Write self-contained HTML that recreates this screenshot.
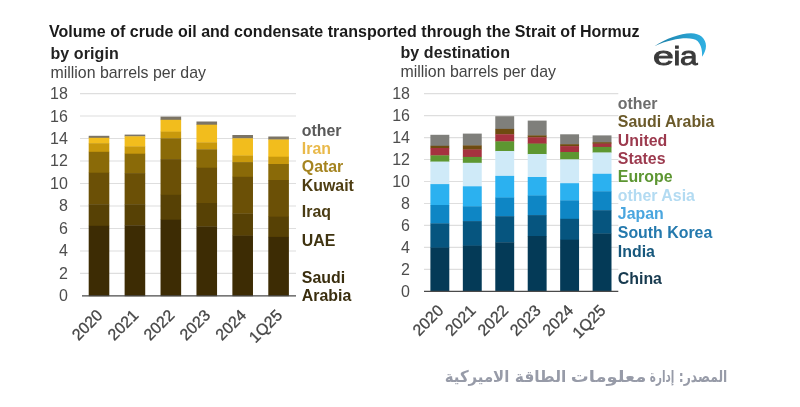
<!DOCTYPE html>
<html lang="en"><head><meta charset="utf-8"><title>Strait of Hormuz crude oil volumes</title>
<style>html,body{margin:0;padding:0;background:#fff}body{width:800px;height:407px;overflow:hidden}svg{display:block}text{font-family:"Liberation Sans",sans-serif}.b{font-weight:bold}.t{fill:#4d4d4d;font-size:16px}.x{fill:#454545;font-size:16px;stroke:#454545;stroke-width:.3px}.ar{font-family:"DejaVu Sans",sans-serif}</style></head><body>
<svg width="800" height="407" viewBox="0 0 800 407">
<defs><linearGradient id="sw" x1="0" y1="0" x2="1" y2="0"><stop offset="0" stop-color="#1b7ea6"/><stop offset="1" stop-color="#2fb0e2"/></linearGradient></defs>
<rect width="800" height="407" fill="#fff"/>
<text class="b" x="49" y="36.7" font-size="16" fill="#1a1a1a" textLength="590.6" lengthAdjust="spacing">Volume of crude oil and condensate transported through the Strait of Hormuz</text>
<text class="b" x="50.5" y="58.5" font-size="16" fill="#222" letter-spacing="0.08">by origin</text>
<text x="50.5" y="77.5" font-size="15.9" fill="#444">million barrels per day</text>
<text class="b" x="400.5" y="57.5" font-size="16" fill="#222" letter-spacing="0.08">by destination</text>
<text x="400.5" y="76.7" font-size="15.9" fill="#444">million barrels per day</text>
<line x1="80.0" x2="296.0" y1="273.42" y2="273.42" stroke="#dedede" stroke-width="1.1"/>
<line x1="80.0" x2="296.0" y1="250.94" y2="250.94" stroke="#dedede" stroke-width="1.1"/>
<line x1="80.0" x2="296.0" y1="228.46" y2="228.46" stroke="#dedede" stroke-width="1.1"/>
<line x1="80.0" x2="296.0" y1="205.98" y2="205.98" stroke="#dedede" stroke-width="1.1"/>
<line x1="80.0" x2="296.0" y1="183.50" y2="183.50" stroke="#dedede" stroke-width="1.1"/>
<line x1="80.0" x2="296.0" y1="161.02" y2="161.02" stroke="#dedede" stroke-width="1.1"/>
<line x1="80.0" x2="296.0" y1="138.54" y2="138.54" stroke="#dedede" stroke-width="1.1"/>
<line x1="80.0" x2="296.0" y1="116.06" y2="116.06" stroke="#dedede" stroke-width="1.1"/>
<line x1="80.0" x2="296.0" y1="93.58" y2="93.58" stroke="#dedede" stroke-width="1.1"/>
<text class="t" x="67.8" y="301.35" text-anchor="end">0</text>
<text class="t" x="67.8" y="278.87" text-anchor="end">2</text>
<text class="t" x="67.8" y="256.39" text-anchor="end">4</text>
<text class="t" x="67.8" y="233.91" text-anchor="end">6</text>
<text class="t" x="67.8" y="211.43" text-anchor="end">8</text>
<text class="t" x="67.8" y="188.95" text-anchor="end">10</text>
<text class="t" x="67.8" y="166.47" text-anchor="end">12</text>
<text class="t" x="67.8" y="143.99" text-anchor="end">14</text>
<text class="t" x="67.8" y="121.51" text-anchor="end">16</text>
<text class="t" x="67.8" y="99.03" text-anchor="end">18</text>
<rect x="88.70" y="135.80" width="20.60" height="2.30" fill="#7b7466"/>
<rect x="88.70" y="137.80" width="20.60" height="5.70" fill="#f2bd1d"/>
<rect x="88.70" y="143.20" width="20.60" height="8.90" fill="#c9990c"/>
<rect x="88.70" y="151.80" width="20.60" height="21.20" fill="#8a6a08"/>
<rect x="88.70" y="172.70" width="20.60" height="31.80" fill="#6b5006"/>
<rect x="88.70" y="204.20" width="20.60" height="21.90" fill="#574105"/>
<rect x="88.70" y="225.80" width="20.60" height="70.40" fill="#3d2c04"/>
<rect x="124.62" y="134.60" width="20.60" height="2.00" fill="#7b7466"/>
<rect x="124.62" y="136.30" width="20.60" height="10.40" fill="#f2bd1d"/>
<rect x="124.62" y="146.40" width="20.60" height="7.60" fill="#c9990c"/>
<rect x="124.62" y="153.70" width="20.60" height="19.70" fill="#8a6a08"/>
<rect x="124.62" y="173.10" width="20.60" height="31.40" fill="#6b5006"/>
<rect x="124.62" y="204.20" width="20.60" height="21.40" fill="#574105"/>
<rect x="124.62" y="225.30" width="20.60" height="70.90" fill="#3d2c04"/>
<rect x="160.54" y="116.60" width="20.60" height="3.50" fill="#7b7466"/>
<rect x="160.54" y="119.80" width="20.60" height="12.10" fill="#f2bd1d"/>
<rect x="160.54" y="131.60" width="20.60" height="7.00" fill="#c9990c"/>
<rect x="160.54" y="138.30" width="20.60" height="21.10" fill="#8a6a08"/>
<rect x="160.54" y="159.10" width="20.60" height="36.00" fill="#6b5006"/>
<rect x="160.54" y="194.80" width="20.60" height="25.20" fill="#574105"/>
<rect x="160.54" y="219.70" width="20.60" height="76.50" fill="#3d2c04"/>
<rect x="196.46" y="121.50" width="20.60" height="3.50" fill="#7b7466"/>
<rect x="196.46" y="124.70" width="20.60" height="18.00" fill="#f2bd1d"/>
<rect x="196.46" y="142.40" width="20.60" height="7.20" fill="#c9990c"/>
<rect x="196.46" y="149.30" width="20.60" height="18.70" fill="#8a6a08"/>
<rect x="196.46" y="167.70" width="20.60" height="35.60" fill="#6b5006"/>
<rect x="196.46" y="203.00" width="20.60" height="23.80" fill="#574105"/>
<rect x="196.46" y="226.50" width="20.60" height="69.70" fill="#3d2c04"/>
<rect x="232.38" y="135.00" width="20.60" height="3.60" fill="#7b7466"/>
<rect x="232.38" y="138.30" width="20.60" height="17.50" fill="#f2bd1d"/>
<rect x="232.38" y="155.50" width="20.60" height="6.90" fill="#c9990c"/>
<rect x="232.38" y="162.10" width="20.60" height="15.00" fill="#8a6a08"/>
<rect x="232.38" y="176.80" width="20.60" height="37.00" fill="#6b5006"/>
<rect x="232.38" y="213.50" width="20.60" height="22.40" fill="#574105"/>
<rect x="232.38" y="235.60" width="20.60" height="60.60" fill="#3d2c04"/>
<rect x="268.30" y="136.50" width="20.60" height="3.30" fill="#7b7466"/>
<rect x="268.30" y="139.50" width="20.60" height="17.50" fill="#f2bd1d"/>
<rect x="268.30" y="156.70" width="20.60" height="7.60" fill="#c9990c"/>
<rect x="268.30" y="164.00" width="20.60" height="16.30" fill="#8a6a08"/>
<rect x="268.30" y="180.00" width="20.60" height="37.00" fill="#6b5006"/>
<rect x="268.30" y="216.70" width="20.60" height="20.50" fill="#574105"/>
<rect x="268.30" y="236.90" width="20.60" height="59.30" fill="#3d2c04"/>
<line x1="82.0" x2="296.0" y1="295.90" y2="295.90" stroke="#4a4a4a" stroke-width="1.2"/>
<text class="t x" text-anchor="end" transform="translate(103.60,316.10) rotate(-45)">2020</text>
<text class="t x" text-anchor="end" transform="translate(139.52,316.10) rotate(-45)">2021</text>
<text class="t x" text-anchor="end" transform="translate(175.44,316.10) rotate(-45)">2022</text>
<text class="t x" text-anchor="end" transform="translate(211.36,316.10) rotate(-45)">2023</text>
<text class="t x" text-anchor="end" transform="translate(247.28,316.10) rotate(-45)">2024</text>
<text class="t x" text-anchor="end" transform="translate(283.20,316.10) rotate(-45)">1Q25</text>
<line x1="424.0" x2="618.3" y1="269.34" y2="269.34" stroke="#dedede" stroke-width="1.1"/>
<line x1="424.0" x2="618.3" y1="247.38" y2="247.38" stroke="#dedede" stroke-width="1.1"/>
<line x1="424.0" x2="618.3" y1="225.42" y2="225.42" stroke="#dedede" stroke-width="1.1"/>
<line x1="424.0" x2="618.3" y1="203.46" y2="203.46" stroke="#dedede" stroke-width="1.1"/>
<line x1="424.0" x2="618.3" y1="181.50" y2="181.50" stroke="#dedede" stroke-width="1.1"/>
<line x1="424.0" x2="618.3" y1="159.54" y2="159.54" stroke="#dedede" stroke-width="1.1"/>
<line x1="424.0" x2="618.3" y1="137.58" y2="137.58" stroke="#dedede" stroke-width="1.1"/>
<line x1="424.0" x2="618.3" y1="115.62" y2="115.62" stroke="#dedede" stroke-width="1.1"/>
<line x1="424.0" x2="618.3" y1="93.66" y2="93.66" stroke="#dedede" stroke-width="1.1"/>
<text class="t" x="410.0" y="296.75" text-anchor="end">0</text>
<text class="t" x="410.0" y="274.79" text-anchor="end">2</text>
<text class="t" x="410.0" y="252.83" text-anchor="end">4</text>
<text class="t" x="410.0" y="230.87" text-anchor="end">6</text>
<text class="t" x="410.0" y="208.91" text-anchor="end">8</text>
<text class="t" x="410.0" y="186.95" text-anchor="end">10</text>
<text class="t" x="410.0" y="164.99" text-anchor="end">12</text>
<text class="t" x="410.0" y="143.03" text-anchor="end">14</text>
<text class="t" x="410.0" y="121.07" text-anchor="end">16</text>
<text class="t" x="410.0" y="99.11" text-anchor="end">18</text>
<rect x="430.40" y="134.80" width="18.90" height="11.30" fill="#7f7f7b"/>
<rect x="430.40" y="145.80" width="18.90" height="2.50" fill="#6e4b10"/>
<rect x="430.40" y="148.00" width="18.90" height="7.70" fill="#a5323f"/>
<rect x="430.40" y="155.40" width="18.90" height="6.50" fill="#5d9731"/>
<rect x="430.40" y="161.60" width="18.90" height="22.80" fill="#cfeaf8"/>
<rect x="430.40" y="184.10" width="18.90" height="21.20" fill="#2bb1f0"/>
<rect x="430.40" y="205.00" width="18.90" height="18.70" fill="#0e86c5"/>
<rect x="430.40" y="223.40" width="18.90" height="24.50" fill="#06557f"/>
<rect x="430.40" y="247.60" width="18.90" height="44.00" fill="#043a57"/>
<rect x="462.84" y="133.60" width="18.90" height="12.10" fill="#7f7f7b"/>
<rect x="462.84" y="145.40" width="18.90" height="4.40" fill="#6e4b10"/>
<rect x="462.84" y="149.50" width="18.90" height="7.70" fill="#a5323f"/>
<rect x="462.84" y="156.90" width="18.90" height="6.20" fill="#5d9731"/>
<rect x="462.84" y="162.80" width="18.90" height="23.80" fill="#cfeaf8"/>
<rect x="462.84" y="186.30" width="18.90" height="20.30" fill="#2bb1f0"/>
<rect x="462.84" y="206.30" width="18.90" height="15.10" fill="#0e86c5"/>
<rect x="462.84" y="221.10" width="18.90" height="24.80" fill="#06557f"/>
<rect x="462.84" y="245.60" width="18.90" height="46.00" fill="#043a57"/>
<rect x="495.28" y="116.20" width="18.90" height="13.00" fill="#7f7f7b"/>
<rect x="495.28" y="128.90" width="18.90" height="5.70" fill="#6e4b10"/>
<rect x="495.28" y="134.30" width="18.90" height="7.40" fill="#a5323f"/>
<rect x="495.28" y="141.40" width="18.90" height="9.90" fill="#5d9731"/>
<rect x="495.28" y="151.00" width="18.90" height="25.20" fill="#cfeaf8"/>
<rect x="495.28" y="175.90" width="18.90" height="21.90" fill="#2bb1f0"/>
<rect x="495.28" y="197.50" width="18.90" height="19.00" fill="#0e86c5"/>
<rect x="495.28" y="216.20" width="18.90" height="26.40" fill="#06557f"/>
<rect x="495.28" y="242.30" width="18.90" height="49.30" fill="#043a57"/>
<rect x="527.72" y="120.60" width="18.90" height="15.10" fill="#7f7f7b"/>
<rect x="527.72" y="135.40" width="18.90" height="2.20" fill="#6e4b10"/>
<rect x="527.72" y="137.30" width="18.90" height="6.60" fill="#a5323f"/>
<rect x="527.72" y="143.60" width="18.90" height="10.70" fill="#5d9731"/>
<rect x="527.72" y="154.00" width="18.90" height="23.30" fill="#cfeaf8"/>
<rect x="527.72" y="177.00" width="18.90" height="18.80" fill="#2bb1f0"/>
<rect x="527.72" y="195.50" width="18.90" height="19.90" fill="#0e86c5"/>
<rect x="527.72" y="215.10" width="18.90" height="21.20" fill="#06557f"/>
<rect x="527.72" y="236.00" width="18.90" height="55.60" fill="#043a57"/>
<rect x="560.16" y="134.30" width="18.90" height="10.20" fill="#7f7f7b"/>
<rect x="560.16" y="144.20" width="18.90" height="2.20" fill="#6e4b10"/>
<rect x="560.16" y="146.10" width="18.90" height="6.20" fill="#a5323f"/>
<rect x="560.16" y="152.00" width="18.90" height="7.70" fill="#5d9731"/>
<rect x="560.16" y="159.40" width="18.90" height="24.10" fill="#cfeaf8"/>
<rect x="560.16" y="183.20" width="18.90" height="17.50" fill="#2bb1f0"/>
<rect x="560.16" y="200.40" width="18.90" height="18.70" fill="#0e86c5"/>
<rect x="560.16" y="218.80" width="18.90" height="21.20" fill="#06557f"/>
<rect x="560.16" y="239.70" width="18.90" height="51.90" fill="#043a57"/>
<rect x="592.60" y="135.40" width="18.90" height="7.10" fill="#7f7f7b"/>
<rect x="592.60" y="142.20" width="18.90" height="1.70" fill="#6e4b10"/>
<rect x="592.60" y="143.60" width="18.90" height="3.60" fill="#a5323f"/>
<rect x="592.60" y="146.90" width="18.90" height="5.90" fill="#5d9731"/>
<rect x="592.60" y="152.50" width="18.90" height="21.60" fill="#cfeaf8"/>
<rect x="592.60" y="173.80" width="18.90" height="17.80" fill="#2bb1f0"/>
<rect x="592.60" y="191.30" width="18.90" height="19.20" fill="#0e86c5"/>
<rect x="592.60" y="210.20" width="18.90" height="23.60" fill="#06557f"/>
<rect x="592.60" y="233.50" width="18.90" height="58.10" fill="#043a57"/>
<line x1="424.0" x2="618.3" y1="291.30" y2="291.30" stroke="#4a4a4a" stroke-width="1.2"/>
<text class="t x" text-anchor="end" transform="translate(444.45,311.50) rotate(-45)">2020</text>
<text class="t x" text-anchor="end" transform="translate(476.89,311.50) rotate(-45)">2021</text>
<text class="t x" text-anchor="end" transform="translate(509.33,311.50) rotate(-45)">2022</text>
<text class="t x" text-anchor="end" transform="translate(541.77,311.50) rotate(-45)">2023</text>
<text class="t x" text-anchor="end" transform="translate(574.21,311.50) rotate(-45)">2024</text>
<text class="t x" text-anchor="end" transform="translate(606.65,311.50) rotate(-45)">1Q25</text>
<text class="b" x="301.8" y="135.8" font-size="15.9" fill="#595959">other</text>
<text class="b" x="301.8" y="154.2" font-size="15.9" fill="#e9b94a">Iran</text>
<text class="b" x="301.8" y="172.2" font-size="15.9" fill="#a58420">Qatar</text>
<text class="b" x="301.8" y="190.6" font-size="15.9" fill="#4d3d12">Kuwait</text>
<text class="b" x="301.8" y="216.5" font-size="15.9" fill="#4a3c14">Iraq</text>
<text class="b" x="301.8" y="245.5" font-size="15.9" fill="#3f3310">UAE</text>
<text class="b" x="301.8" y="282.9" font-size="15.9" fill="#3a2e0e">Saudi</text>
<text class="b" x="301.8" y="300.6" font-size="15.9" fill="#3a2e0e">Arabia</text>
<text class="b" x="617.8" y="108.6" font-size="15.9" fill="#6e6e6e">other</text>
<text class="b" x="617.8" y="126.9" font-size="15.9" fill="#6b5a2a">Saudi Arabia</text>
<text class="b" x="617.8" y="145.5" font-size="15.9" fill="#9c3a4e">United</text>
<text class="b" x="617.8" y="164.0" font-size="15.9" fill="#9c3a4e">States</text>
<text class="b" x="617.8" y="181.8" font-size="15.9" fill="#5d9632">Europe</text>
<text class="b" x="617.8" y="200.5" font-size="15.9" fill="#b3dbf2">other Asia</text>
<text class="b" x="617.8" y="219.4" font-size="15.9" fill="#4aa6df">Japan</text>
<text class="b" x="617.8" y="237.6" font-size="15.9" fill="#2479ad">South Korea</text>
<text class="b" x="617.8" y="257.0" font-size="15.9" fill="#17587d">India</text>
<text class="b" x="617.8" y="284.0" font-size="15.9" fill="#173a4f">China</text>
<path d="M654.4 46.2 C 666 38.5, 680 33.4, 691 33.2 C 700 33.2, 706 38.5, 706 46 C 706 50, 704 54, 702 56.8 C 702.5 52, 701.5 45, 697.5 41 C 692 36.5, 674 37.5, 654.4 46.2 Z" fill="url(#sw)"/>
<text y="65.1" font-size="26.3" fill="#3a3a3a" stroke="#3a3a3a" stroke-width="0.9"><tspan x="652.9" textLength="20.8" lengthAdjust="spacingAndGlyphs">e</tspan><tspan x="673.5" textLength="6.8" lengthAdjust="spacingAndGlyphs">i</tspan><tspan x="680.0" textLength="17.6" lengthAdjust="spacingAndGlyphs">a</tspan></text>
<text class="ar" y="382" font-size="16" font-weight="bold" fill="#979ba8" direction="rtl" text-anchor="start"><tspan x="727.3" textLength="48.5" lengthAdjust="spacingAndGlyphs">المصدر:</tspan> <tspan x="674.3" textLength="24.5" lengthAdjust="spacingAndGlyphs">إدارة</tspan> <tspan x="646.3" textLength="75.5" lengthAdjust="spacingAndGlyphs">معلومات</tspan> <tspan x="566.3" textLength="51.5" lengthAdjust="spacingAndGlyphs">الطاقة</tspan> <tspan x="509.3" textLength="64.5" lengthAdjust="spacingAndGlyphs">الاميركية</tspan></text>
</svg></body></html>
